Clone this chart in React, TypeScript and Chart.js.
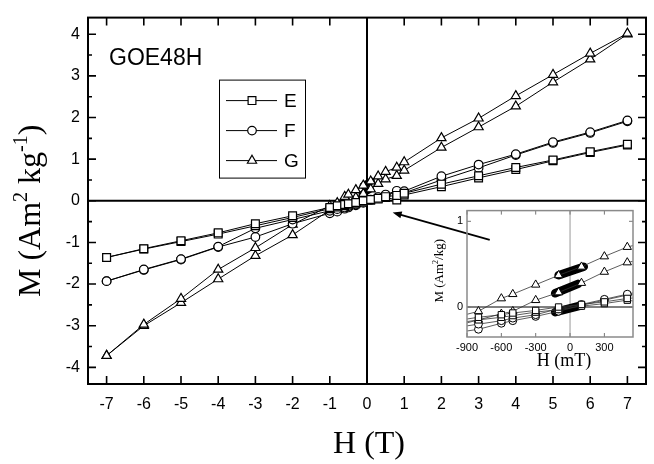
import React, { useEffect, useRef } from 'react';
import { Chart, registerables } from 'chart.js';
Chart.register(...registerables);

// ---------- data (H in tesla, M in Am^2/kg) ----------
const H_FIELD = [-7, -6, -5, -4, -3, -2, -1, -0.8, -0.6, -0.5, -0.3, -0.1, 0.1, 0.3, 0.5, 0.8, 1, 2, 3, 4, 5, 6, 7];

const E_UPPER = [-1.36, -1.15, -0.96, -0.77, -0.55, -0.36, -0.16, -0.12, -0.09, -0.07, -0.04, 0.0, 0.03, 0.06, 0.10, 0.13, 0.18, 0.40, 0.60, 0.80, 0.98, 1.18, 1.36];
const E_LOWER = [-1.36, -1.16, -0.98, -0.80, -0.60, -0.40, -0.19, -0.15, -0.12, -0.10, -0.06, -0.03, 0.01, 0.04, 0.08, 0.02, 0.14, 0.34, 0.55, 0.75, 0.96, 1.16, 1.34];

const F_UPPER = [-1.93, -1.65, -1.40, -1.10, -0.66, -0.45, -0.24, -0.20, -0.16, -0.13, -0.09, -0.02, 0.03, 0.09, 0.15, 0.24, 0.23, 0.59, 0.87, 1.12, 1.41, 1.65, 1.93];
const F_LOWER = [-1.93, -1.66, -1.41, -1.11, -0.87, -0.55, -0.30, -0.26, -0.19, -0.16, -0.11, -0.05, 0.02, 0.08, 0.14, 0.20, 0.19, 0.50, 0.79, 1.10, 1.39, 1.63, 1.91];

const G_UPPER = [-3.72, -2.97, -2.35, -1.65, -1.13, -0.57, -0.12, -0.05, 0.10, 0.15, 0.26, 0.37, 0.47, 0.59, 0.70, 0.80, 0.93, 1.51, 1.98, 2.52, 3.03, 3.54, 4.02];
const G_LOWER = [-3.72, -3.00, -2.45, -1.88, -1.32, -0.82, -0.22, -0.15, -0.08, -0.05, 0.08, 0.17, 0.28, 0.41, 0.52, 0.60, 0.73, 1.28, 1.77, 2.27, 2.85, 3.40, 4.00];

// dense measurements around zero field (appear as solid black bands)
const BLOB_G_UPPER_H = [-0.1, 0.12];
const BLOB_G_UPPER_M = [0.37, 0.47];
const BLOB_G_LOWER_H = [-0.13, 0.07];
const BLOB_G_LOWER_M = [0.16, 0.27];
const BLOB_EF_H = [-0.13, 0.1];
const BLOB_EF_M = [-0.06, 0.02];

const X_TICKS = [-7, -6, -5, -4, -3, -2, -1, 0, 1, 2, 3, 4, 5, 6, 7];
const Y_TICKS = [-4, -3, -2, -1, 0, 1, 2, 3, 4];
const Y_MINOR = [-3.5, -2.5, -1.5, -0.5, 0.5, 1.5, 2.5, 3.5];

const INSET_X_TICKS = [-900, -600, -300, 0, 300];
const INSET_Y_TICKS = [0, 1];

const SERIES_LABELS = ['E', 'F', 'G'];
const SAMPLE_NAME = 'GOE48H';
const ARROW_FROM = [3.3, -0.94];
const ARROW_TO = [0.69, -0.28];

const SANS = "Arial, 'Liberation Sans', sans-serif";
const SERIF = "'Times New Roman', 'Liberation Serif', serif";

type Part = { t: string; size: number; rise?: number };

function drawRich(ctx: CanvasRenderingContext2D, parts: Part[], x: number, y: number, angle: number) {
  ctx.save();
  ctx.translate(x, y);
  ctx.rotate(angle);
  ctx.fillStyle = '#000';
  ctx.textAlign = 'left';
  ctx.textBaseline = 'alphabetic';
  let total = 0;
  for (const p of parts) {
    ctx.font = `${p.size}px ${SERIF}`;
    total += ctx.measureText(p.t).width;
  }
  let cx = -total / 2;
  for (const p of parts) {
    ctx.font = `${p.size}px ${SERIF}`;
    ctx.fillText(p.t, cx, -(p.rise || 0));
    cx += ctx.measureText(p.t).width;
  }
  ctx.restore();
}

function drawMarker(ctx: CanvasRenderingContext2D, style: string, x: number, y: number, r: number, lw: number) {
  ctx.save();
  ctx.beginPath();
  if (style === 'rect') {
    const s = r * Math.SQRT1_2;
    ctx.rect(x - s, y - s, 2 * s, 2 * s);
  } else if (style === 'circle') {
    ctx.arc(x, y, r, 0, Math.PI * 2);
  } else {
    for (let k = 0; k < 3; k++) {
      const a = (k * 2 * Math.PI) / 3;
      const px = x + Math.sin(a) * r;
      const py = y - Math.cos(a) * r;
      if (k === 0) ctx.moveTo(px, py);
      else ctx.lineTo(px, py);
    }
    ctx.closePath();
  }
  ctx.fillStyle = '#fff';
  ctx.fill();
  ctx.lineWidth = lw;
  ctx.strokeStyle = '#000';
  ctx.stroke();
  ctx.restore();
}

const STYLES = ['rect', 'circle', 'triangle'];

function seriesDatasets(scaleX: number, radii: number[], lineW: number, lineColor: string, pointLW: number, blobW: number) {
  const branches = [
    [E_UPPER, E_LOWER],
    [F_UPPER, F_LOWER],
    [G_UPPER, G_LOWER],
  ];
  const ds: any[] = [];
  branches.forEach((pair, si) => {
    pair.forEach((arr, bi) => {
      ds.push({
        label: SERIES_LABELS[si] + (bi === 0 ? ' upper' : ' lower'),
        data: H_FIELD.map((h, i) => ({ x: h * scaleX, y: arr[i] })),
        showLine: true,
        borderColor: lineColor,
        borderWidth: lineW,
        pointStyle: STYLES[si],
        pointRadius: radii[si],
        pointBorderWidth: pointLW,
        pointBorderColor: '#000',
        pointBackgroundColor: '#fff',
        order: 0,
      });
    });
  });
  const blobs = [
    [BLOB_G_UPPER_H, BLOB_G_UPPER_M],
    [BLOB_G_LOWER_H, BLOB_G_LOWER_M],
    [BLOB_EF_H, BLOB_EF_M],
  ];
  blobs.forEach(([hs, ms], bi) => {
    ds.push({
      label: 'dense ' + bi,
      data: hs.map((h, i) => ({ x: h * scaleX, y: ms[i] })),
      showLine: true,
      borderColor: '#000',
      borderWidth: blobW,
      borderCapStyle: 'round',
      pointRadius: 0,
      order: 1,
    });
  });
  return ds;
}

function framePlugin(cfg: {
  id: string;
  borderW: number;
  borderColor: string;
  tickColor: string;
  tickW: number;
  majorLen: number;
  minorLen: number;
  xTicks: number[];
  yTicks: number[];
  yMinor: number[];
  zeroW: number;
  zeroHColor: string;
  zeroVColor: string;
  extra?: (chart: any) => void;
}) {
  return {
    id: cfg.id,
    beforeDatasetsDraw(chart: any) {
      const { ctx, chartArea: a, scales } = chart;
      const x = scales.x;
      const y = scales.y;
      ctx.save();
      ctx.lineWidth = cfg.zeroW;
      const y0 = y.getPixelForValue(0);
      ctx.strokeStyle = cfg.zeroHColor;
      ctx.beginPath();
      ctx.moveTo(a.left, y0);
      ctx.lineTo(a.right, y0);
      ctx.stroke();
      const x0 = x.getPixelForValue(0);
      ctx.strokeStyle = cfg.zeroVColor;
      ctx.beginPath();
      ctx.moveTo(x0, a.top);
      ctx.lineTo(x0, a.bottom);
      ctx.stroke();
      ctx.restore();
    },
    afterDatasetsDraw(chart: any) {
      const { ctx, chartArea: a, scales } = chart;
      const x = scales.x;
      const y = scales.y;
      ctx.save();
      ctx.strokeStyle = cfg.tickColor;
      ctx.lineWidth = cfg.tickW;
      ctx.beginPath();
      for (const v of cfg.xTicks) {
        const px = x.getPixelForValue(v);
        ctx.moveTo(px, a.bottom);
        ctx.lineTo(px, a.bottom - cfg.majorLen);
        ctx.moveTo(px, a.top);
        ctx.lineTo(px, a.top + cfg.majorLen);
      }
      for (const v of cfg.yTicks) {
        const py = y.getPixelForValue(v);
        ctx.moveTo(a.left, py);
        ctx.lineTo(a.left + cfg.majorLen, py);
        ctx.moveTo(a.right, py);
        ctx.lineTo(a.right - cfg.majorLen, py);
      }
      for (const v of cfg.yMinor) {
        const py = y.getPixelForValue(v);
        ctx.moveTo(a.left, py);
        ctx.lineTo(a.left + cfg.minorLen, py);
        ctx.moveTo(a.right, py);
        ctx.lineTo(a.right - cfg.minorLen, py);
      }
      ctx.stroke();
      ctx.strokeStyle = cfg.borderColor;
      ctx.lineWidth = cfg.borderW;
      ctx.strokeRect(a.left, a.top, a.right - a.left, a.bottom - a.top);
      ctx.restore();
    },
    afterDraw(chart: any) {
      if (cfg.extra) cfg.extra(chart);
    },
  };
}

export default function App() {
  const mainRef = useRef<HTMLCanvasElement>(null);
  const insetRef = useRef<HTMLCanvasElement>(null);

  useEffect(() => {
    const mainExtra = (chart: any) => {
      const { ctx, chartArea: a, scales } = chart;
      const x = scales.x;
      const y = scales.y;
      // axis titles
      drawRich(ctx, [{ t: 'H (T)', size: 32 }], (a.left + a.right) / 2 + 2, 453, 0);
      drawRich(
        ctx,
        [
          { t: 'M (Am', size: 32 },
          { t: '2', size: 20, rise: 13 },
          { t: ' kg', size: 32 },
          { t: '-1', size: 20, rise: 13 },
          { t: ')', size: 32 },
        ],
        40,
        (a.top + a.bottom) / 2 + 10,
        -Math.PI / 2
      );
      // sample name
      ctx.save();
      ctx.fillStyle = '#000';
      ctx.font = `23px ${SANS}`;
      ctx.textBaseline = 'alphabetic';
      ctx.textAlign = 'left';
      ctx.fillText(SAMPLE_NAME, a.left + 21, a.top + 47);
      ctx.restore();
      // legend
      const lx = a.left + 131;
      const ly = a.top + 62;
      ctx.save();
      ctx.strokeStyle = '#000';
      ctx.lineWidth = 1;
      ctx.strokeRect(lx + 0.5, ly + 0.5, 86, 98);
      SERIES_LABELS.forEach((lab, i) => {
        const ry = ly + 21 + i * 30;
        ctx.beginPath();
        ctx.moveTo(lx + 7, ry);
        ctx.lineTo(lx + 58, ry);
        ctx.lineWidth = 1;
        ctx.strokeStyle = '#000';
        ctx.stroke();
        drawMarker(ctx, STYLES[i], lx + 33, ry, [5.5, 4.3, 5.3][i], 1.2);
        ctx.fillStyle = '#000';
        ctx.font = `19px ${SANS}`;
        ctx.textAlign = 'left';
        ctx.textBaseline = 'middle';
        ctx.fillText(lab, lx + 65, ry + 1);
      });
      ctx.restore();
      // arrow
      const fx = x.getPixelForValue(ARROW_FROM[0]);
      const fy = y.getPixelForValue(ARROW_FROM[1]);
      const tx = x.getPixelForValue(ARROW_TO[0]);
      const ty = y.getPixelForValue(ARROW_TO[1]);
      const ang = Math.atan2(ty - fy, tx - fx);
      ctx.save();
      ctx.strokeStyle = '#000';
      ctx.fillStyle = '#000';
      ctx.lineWidth = 1.8;
      ctx.beginPath();
      ctx.moveTo(fx, fy);
      ctx.lineTo(tx - Math.cos(ang) * 4, ty - Math.sin(ang) * 4);
      ctx.stroke();
      ctx.beginPath();
      ctx.moveTo(tx, ty);
      ctx.lineTo(tx - Math.cos(ang) * 9 + Math.sin(ang) * 3.5, ty - Math.sin(ang) * 9 - Math.cos(ang) * 3.5);
      ctx.lineTo(tx - Math.cos(ang) * 9 - Math.sin(ang) * 3.5, ty - Math.sin(ang) * 9 + Math.cos(ang) * 3.5);
      ctx.closePath();
      ctx.fill();
      ctx.restore();
    };

    const main = new Chart(mainRef.current as HTMLCanvasElement, {
      type: 'scatter',
      data: { datasets: seriesDatasets(1, [5.5, 4.3, 5.3], 1, '#000', 1.2, 7) },
      options: {
        responsive: false,
        animation: false,
        events: [],
        layout: { padding: { top: 10, right: 8, left: 0, bottom: 0 } },
        plugins: { legend: { display: false }, tooltip: { enabled: false } },
        scales: {
          x: {
            type: 'linear',
            min: -7.5,
            max: 7.5,
            grid: { display: false, drawTicks: false },
            border: { display: false },
            afterBuildTicks: (s: any) => {
              s.ticks = X_TICKS.map((v) => ({ value: v }));
            },
            afterFit: (s: any) => {
              s.height = 80;
            },
            ticks: { color: '#000', font: { family: SANS, size: 16 }, padding: 11, maxRotation: 0, autoSkip: false },
          },
          y: {
            type: 'linear',
            min: -4.4,
            max: 4.4,
            grid: { display: false, drawTicks: false },
            border: { display: false },
            afterBuildTicks: (s: any) => {
              s.ticks = Y_TICKS.map((v) => ({ value: v }));
            },
            afterFit: (s: any) => {
              s.width = 88;
            },
            ticks: { color: '#000', font: { family: SANS, size: 16 }, padding: 8, autoSkip: false },
          },
        },
      },
      plugins: [
        framePlugin({
          id: 'mainFrame',
          borderW: 2,
          borderColor: '#000',
          tickColor: '#000',
          tickW: 1.6,
          majorLen: 8,
          minorLen: 4,
          xTicks: X_TICKS,
          yTicks: Y_TICKS,
          yMinor: Y_MINOR,
          zeroW: 2,
          zeroHColor: '#000',
          zeroVColor: '#000',
          extra: mainExtra,
        }),
      ],
    } as any);

    const insetExtra = (chart: any) => {
      const { ctx, chartArea: a } = chart;
      drawRich(ctx, [{ t: 'H (mT)', size: 18 }], (a.left + a.right) / 2 + 14, 166, 0);
      drawRich(
        ctx,
        [
          { t: 'M (Am', size: 13 },
          { t: '2', size: 8, rise: 5 },
          { t: '/kg)', size: 13 },
        ],
        43,
        (a.top + a.bottom) / 2 - 3,
        -Math.PI / 2
      );
    };

    const inset = new Chart(insetRef.current as HTMLCanvasElement, {
      type: 'scatter',
      data: { datasets: seriesDatasets(1000, [4.5, 3.9, 4.8], 0.8, '#333', 1, 8.5).map((d) => ({ ...d, clip: 0 })) },
      options: {
        responsive: false,
        animation: false,
        events: [],
        layout: { padding: { top: 10, right: 17, left: 0, bottom: 0 } },
        plugins: { legend: { display: false }, tooltip: { enabled: false } },
        scales: {
          x: {
            type: 'linear',
            min: -900,
            max: 550,
            grid: { display: false, drawTicks: false },
            border: { display: false },
            afterBuildTicks: (s: any) => {
              s.ticks = INSET_X_TICKS.map((v) => ({ value: v }));
            },
            afterFit: (s: any) => {
              s.height = 43;
            },
            ticks: { color: '#000', font: { family: SANS, size: 11 }, padding: 4, maxRotation: 0, autoSkip: false },
          },
          y: {
            type: 'linear',
            min: -0.35,
            max: 1.125,
            grid: { display: false, drawTicks: false },
            border: { display: false },
            afterBuildTicks: (s: any) => {
              s.ticks = INSET_Y_TICKS.map((v) => ({ value: v }));
            },
            afterFit: (s: any) => {
              s.width = 67;
            },
            ticks: { color: '#000', font: { family: SANS, size: 11 }, padding: 4, autoSkip: false },
          },
        },
      },
      plugins: [
        framePlugin({
          id: 'insetFrame',
          borderW: 1.5,
          borderColor: '#8a8a8a',
          tickColor: '#777',
          tickW: 1,
          majorLen: 4,
          minorLen: 2,
          xTicks: INSET_X_TICKS,
          yTicks: INSET_Y_TICKS,
          yMinor: [],
          zeroW: 1,
          zeroHColor: '#000',
          zeroVColor: '#999',
          extra: insetExtra,
        }),
      ],
    } as any);

    return () => {
      main.destroy();
      inset.destroy();
    };
  }, []);

  return (
    <div style={{ position: 'fixed', left: 0, top: 0, width: 654, height: 464, background: '#fff' }}>
      <canvas ref={mainRef} width={654} height={464} style={{ position: 'absolute', left: 0, top: 0 }} />
      <canvas ref={insetRef} width={250} height={180} style={{ position: 'absolute', left: 400, top: 200 }} />
    </div>
  );
}
